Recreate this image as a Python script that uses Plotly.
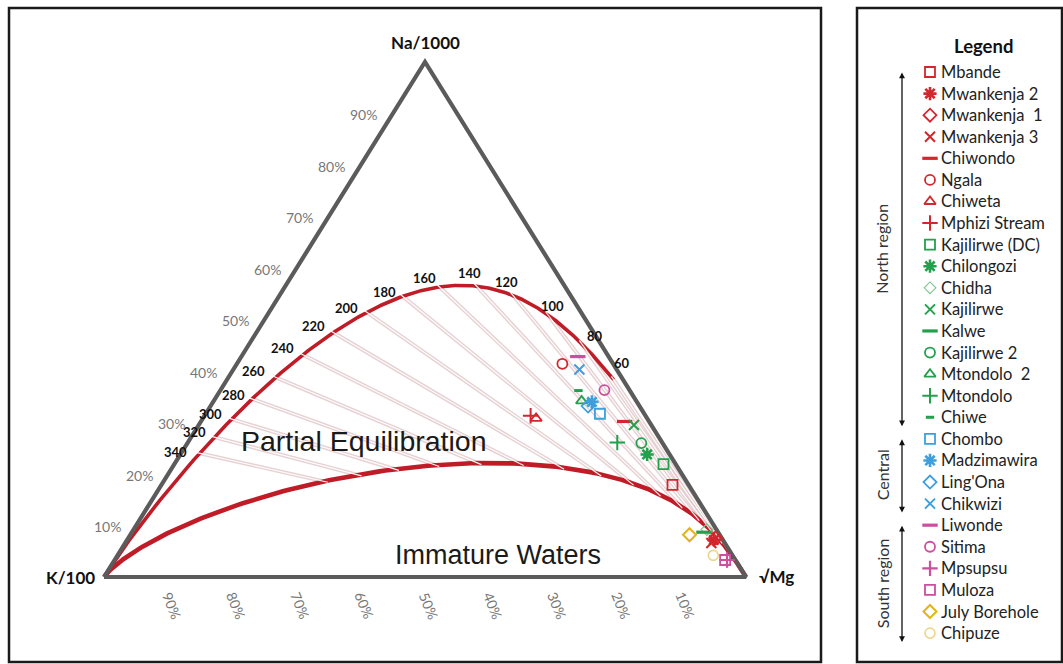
import numpy as np
import plotly.graph_objects as go

# ---------------------------------------------------------------------------
# Sample compositions, relative % of Na/1000, K/100 and sqrt(Mg)
# ---------------------------------------------------------------------------
names = ["Mbande", "Mwankenja 2", "Mwankenja\u00a0 1", "Mwankenja 3", "Chiwondo", "Ngala",
         "Chiweta", "Mphizi Stream", "Kajilirwe (DC)", "Chilongozi", "Chidha", "Kajilirwe",
         "Kalwe", "Kajilirwe 2", "Mtondolo\u00a0 2", "Mtondolo", "Chiwe",
         "Chombo", "Madzimawira", "Ling'Ona", "Chikwizi",
         "Liwonde", "Sitima", "Mpsupsu", "Muloza", "July Borehole", "Chipuze"]
na_pct = [17.9, 7.2, 7.6, 6.6, 30.2, 41.4, 30.8, 31.3, 21.9, 23.8, 9.2, 29.5,
          8.7, 26.0, 34.2, 26.1, 36.2, 31.7, 34.0, 33.2, 40.3,
          42.8, 36.3, 3.3, 3.3, 8.2, 4.2]
k_pct = [2.5, 1.4, 0.9, 2.1, 3.8, 7.9, 17.3, 17.9, 1.9, 3.5, 1.5, 2.7,
         2.2, 3.3, 8.5, 7.0, 8.0, 6.9, 7.0, 8.0, 5.8,
         4.8, 3.9, 1.3, 1.6, 4.7, 3.0]
mg_pct = [79.6, 91.4, 91.5, 91.3, 66.0, 50.7, 51.9, 50.8, 76.2, 72.7, 89.3, 67.8,
          89.1, 70.7, 57.3, 66.9, 55.8, 61.4, 59.0, 58.8, 53.9,
          52.4, 59.8, 95.4, 95.1, 87.1, 92.8]

regions = [("North region", 0, 17), ("Central", 17, 21), ("South region", 21, 27)]

# temperatures (deg C) marked on the full-equilibrium line
temps = [340, 320, 300, 280, 260, 240, 220, 200, 180, 160, 140, 120, 100, 80, 60]
# percentage ticks along the Na and K sides
na_ticks = [10, 20, 30, 40, 50, 60, 70, 80, 90]
k_ticks = [90, 80, 70, 60, 50, 40, 30, 20, 10]

# Giggenbach (1988) geothermometer constants
NAK_A, NAK_B = 1390.0, 1.75
KMG_A, KMG_B = 4410.0, 14.0
MI_IMMATURE = 2.0

# ---------------------------------------------------------------------------
# styles
# ---------------------------------------------------------------------------
RED, GREEN, BLUE, PINK = "#d4262d", "#23a04c", "#3d9fdc", "#cc4e9e"
styles = [
    ("square-open", RED, 10, 1.8), ("asterisk-open", RED, 11, 2.6),
    ("diamond-open", RED, 10, 1.8), ("x-thin-open", RED, 10, 2.0),
    ("line-ew-open", RED, 11, 3.2), ("circle-open", RED, 10, 1.8),
    ("triangle-up-open", RED, 10, 1.8), ("cross-thin-open", RED, 11, 2.0),
    ("square-open", GREEN, 10, 1.8), ("asterisk-open", GREEN, 11, 2.6),
    ("diamond-open", "#7cc592", 9, 1.1), ("x-thin-open", GREEN, 10, 2.0),
    ("line-ew-open", GREEN, 11, 3.2), ("circle-open", GREEN, 10, 1.8),
    ("triangle-up-open", GREEN, 10, 1.8), ("cross-thin-open", GREEN, 11, 2.0),
    ("line-ew-open", GREEN, 6, 3.0),
    ("square-open", BLUE, 10, 1.8), ("asterisk-open", BLUE, 11, 2.6),
    ("diamond-open", BLUE, 10, 1.8), ("x-thin-open", BLUE, 10, 2.0),
    ("line-ew-open", PINK, 11, 3.2), ("circle-open", PINK, 10, 1.8),
    ("cross-thin-open", PINK, 11, 2.2), ("square-open", PINK, 10, 1.8),
    ("diamond-open", "#e2b41c", 10, 2.0), ("circle-open", "#efd58a", 10, 1.6),
]
# pixel offsets of the temperature labels from their curve points
t_label_dx = [-24, -20, -21, -19, -22, -20, -20, -20, -18, -15, -7, -7, 4, 13, 8]
t_label_dy = [-1, -5, -5, -4, -6, -7, -7, -4, -4, -9, -13, -13, -9, -8, -17]

W, H = 1063, 664
# triangle frame in page pixels: K corner, Mg corner, base line and apex
K_PX, MG_PX, BASE_PY, APEX_PY = 104, 746, 577, 62
SX, SY = MG_PX - K_PX, BASE_PY - APEX_PY

LABEL_FONT = "Lato"
CURVE_RED = "#c01c27"
EDGE_GRAY = "#5b5b5b"


def to_xy(na, k, mg):
    """Ternary (Na, K, Mg) -> plane coordinates, K corner at (0,0), Mg at (1,0)."""
    na, k, mg = (np.asarray(v, dtype=float) for v in (na, k, mg))
    s = na + k + mg
    return mg / s + 0.5 * na / s, na / s


def full_equilibrium(t):
    tk = np.asarray(t, dtype=float) + 273.15
    l_nak = NAK_A / tk - NAK_B          # log(Na/K)
    l_kmg = KMG_B - KMG_A / tk          # log(K^2/Mg)
    na = 10 ** l_nak                    # K = 1
    mg = 10 ** (-l_kmg)
    return na / 1000.0, np.full_like(na, 1 / 100.0), np.sqrt(mg)


def immature_line(l_nak):
    l_nak = np.asarray(l_nak, dtype=float)
    na = 10 ** l_nak
    mg = 10 ** (-(MI_IMMATURE - l_nak) / 0.315)
    return na / 1000.0, np.full_like(na, 1 / 100.0), np.sqrt(mg)


def nak_log(t):
    return NAK_A / (np.asarray(t, dtype=float) + 273.15) - NAK_B


fig = go.Figure()

# ---- partial-equilibration rays (Mg corner -> full-equilibrium points) ----
px_, py_ = to_xy(*full_equilibrium(temps))
qx_, qy_ = to_xy(*immature_line(nak_log(temps)))
ray_x, ray_y, core_x, core_y = [], [], [], []
for x0, y0, x1, y1 in zip(px_, py_, qx_, qy_):
    ray_x += [x0, x1, None]
    ray_y += [y0, y1, None]
    dx, dy = x0 - x1, y0 - y1
    L = np.hypot(dx * SX, dy * SY)
    e = 4.0 / L
    core_x += [x0 + dx * e, x1 - dx * e, None]
    core_y += [y0 + dy * e, y1 - dy * e, None]

fig.add_trace(go.Scatter(x=ray_x, y=ray_y, mode="lines", hoverinfo="skip",
                         line=dict(color="rgba(220,190,192,0.7)", width=4.0)))

# ---- full-equilibrium and immature-water lines ----
t_curve = np.concatenate([np.linspace(60, 340, 400), np.geomspace(341, 2e5, 300)])
cx, cy = to_xy(*full_equilibrium(t_curve))
fig.add_trace(go.Scatter(x=cx, y=cy, mode="lines", hoverinfo="skip",
                         line=dict(color=CURVE_RED, width=3.6)))
ix, iy = to_xy(*immature_line(np.linspace(-2.5, 7.5, 800)))
fig.add_trace(go.Scatter(x=ix, y=iy, mode="lines", hoverinfo="skip",
                         line=dict(color=CURVE_RED, width=4.6)))

fig.add_trace(go.Scatter(x=core_x, y=core_y, mode="lines", hoverinfo="skip",
                         line=dict(color="rgba(255,255,255,0.95)", width=1.2)))

# ---- triangle ----
tri_x, tri_y = to_xy([0, 0, 1, 0], [1, 0, 0, 1], [0, 1, 0, 0])
fig.add_trace(go.Scatter(x=tri_x, y=tri_y, mode="lines", hoverinfo="skip",
                         line=dict(color=EDGE_GRAY, width=4.2)))

# ---- samples ----
sx, sy = to_xy(na_pct, k_pct, mg_pct)
for i, name in enumerate(names):
    sym, col, size, lw = styles[i]
    fig.add_trace(go.Scatter(x=[sx[i]], y=[sy[i]], mode="markers", name=name,
                             marker=dict(symbol=sym, size=size, color=col,
                                         line=dict(color=col, width=lw))))

annotations = []
# temperature labels on the full-equilibrium line
for t, x, y, dx, dy in zip(temps, px_, py_, t_label_dx, t_label_dy):
    annotations.append(dict(x=x, y=y, xref="x", yref="y", text=f"<b>{t}</b>",
                            showarrow=False, xshift=dx, yshift=-dy,
                            font=dict(family=LABEL_FONT, size=13, color="#111111")))
# Na percentages along the left side
for v in na_ticks:
    x, y = to_xy(v, 100 - v, 0)
    annotations.append(dict(x=float(x), y=float(y), xref="x", yref="y", text=f"{v}%",
                            showarrow=False, xshift=-29, yshift=-1,
                            font=dict(family=LABEL_FONT, size=14, color="#777777")))
# K percentages below the base
for v in k_ticks:
    x, y = to_xy(0, v, 100 - v)
    annotations.append(dict(x=float(x), y=float(y), xref="x", yref="y", text=f"{v}%",
                            showarrow=False, xshift=4, yshift=-28, textangle=68,
                            font=dict(family=LABEL_FONT, size=14, color="#777777")))
# corner labels
for (a, b, c), txt, dx, dy in [((1, 0, 0), "Na/1000", 0, 20),
                               ((0, 1, 0), "K/100", -34, 0),
                               ((0, 0, 1), "\u221aMg", 30, 1)]:
    x, y = to_xy(a, b, c)
    annotations.append(dict(x=float(x), y=float(y), xref="x", yref="y", text=f"<b>{txt}</b>",
                            showarrow=False, xshift=dx, yshift=dy,
                            font=dict(family=LABEL_FONT, size=17, color="#111111")))
# field names
for (a, b, c), txt, fs in [((26.4, 46.3, 27.3), "Partial Equilibration", 28.5),
                           ((4.3, 36.5, 59.2), "Immature Waters", 27)]:
    x, y = to_xy(a, b, c)
    annotations.append(dict(x=float(x), y=float(y), xref="x", yref="y", text=txt,
                            showarrow=False,
                            font=dict(family="Liberation Sans", size=fs, color="#1a1a1a")))

# ---- legend panel (pixel axes x2/y2) ----
LEG_MARK_X, LEG_TEXT_X, LEG_TOP, LEG_STEP = 930, 939, 72, 21.58
leg_y = [LEG_TOP + i * LEG_STEP for i in range(len(names))]
for i, name in enumerate(names):
    sym, col, size, lw = styles[i]
    fig.add_trace(go.Scatter(x=[LEG_MARK_X], y=[leg_y[i]], xaxis="x2", yaxis="y2",
                             mode="markers", hoverinfo="skip",
                             marker=dict(symbol=sym, size=size, color=col,
                                         line=dict(color=col, width=lw))))
    annotations.append(dict(x=LEG_TEXT_X, y=leg_y[i], xref="x2", yref="y2", text=name,
                            xanchor="left", showarrow=False,
                            font=dict(family=LABEL_FONT, size=16.5, color="#222222")))
annotations.append(dict(x=983, y=46, xref="x2", yref="y2", text="<b>Legend</b>",
                        showarrow=False,
                        font=dict(family=LABEL_FONT, size=18.5, color="#111111")))
ARROW_X, TEXT_X = 902, 882
for label, i0, i1 in regions:
    y0 = leg_y[i0] - 1
    y1 = leg_y[i1 - 1] + 9
    annotations.append(dict(x=ARROW_X, y=y1, ax=ARROW_X, ay=y0, xref="x2", yref="y2",
                            axref="x2", ayref="y2", text="", showarrow=True,
                            arrowhead=2, arrowside="end+start", arrowsize=0.9,
                            arrowwidth=1.3, arrowcolor="#111111"))
    annotations.append(dict(x=TEXT_X, y=(y0 + y1) / 2, xref="x2", yref="y2", text=label,
                            textangle=-90, showarrow=False,
                            font=dict(family=LABEL_FONT, size=16, color="#333333")))

shapes = [
    dict(type="rect", xref="x2", yref="y2", x0=9, x1=821, y0=8, y1=662,
         line=dict(color="#1a1a1a", width=2.5)),
    dict(type="rect", xref="x2", yref="y2", x0=857, x1=1062, y0=8, y1=662,
         line=dict(color="#1a1a1a", width=2.5)),
]

fig.update_layout(
    width=W, height=H, margin=dict(l=0, r=0, t=0, b=0),
    paper_bgcolor="white", plot_bgcolor="white", showlegend=False,
    xaxis=dict(range=[-K_PX / SX, (W - K_PX) / SX], domain=[0, 1], visible=False),
    yaxis=dict(range=[(BASE_PY - H) / SY, BASE_PY / SY], domain=[0, 1], visible=False),
    xaxis2=dict(range=[0, W], domain=[0, 1], visible=False, overlaying="x"),
    yaxis2=dict(range=[H, 0], domain=[0, 1], visible=False, overlaying="y"),
    annotations=annotations, shapes=shapes,
)

fig.write_html("out.html")
